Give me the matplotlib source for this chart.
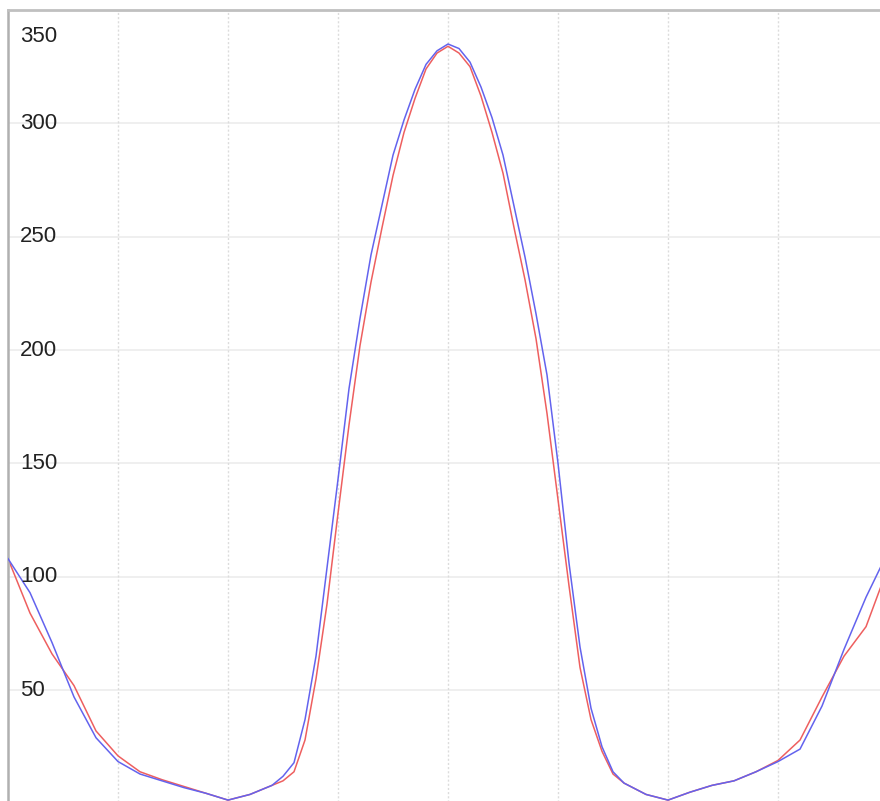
import numpy as np
import matplotlib.pyplot as plt

# x positions in grid units (one vertical grid line every 10 units)
x = [0, 2, 4, 6, 8, 10, 12, 14, 16, 18, 20, 22, 24, 25, 26, 27, 28, 29, 30, 31, 32, 33, 34,
     35, 36, 37, 38, 39, 40, 41, 42, 43, 44, 45, 46, 47, 48, 49, 50, 51, 52, 53, 54, 55,
     56, 58, 60, 62, 64, 66, 68, 70, 72, 74, 76, 78, 79.3]

red = [108, 84, 66, 52, 32, 21, 14, 10.5, 7.5, 4.5, 1.5, 4, 8, 10, 14, 28, 55, 88, 128, 167, 202, 230, 254,
       277, 296, 311, 324, 331, 334, 331, 325, 312, 296, 278, 254, 231, 205, 172, 134, 96, 60, 37, 23, 13,
       9, 4, 1.5, 5, 8, 10, 14, 19, 28, 47, 65, 78, 95]

blue = [108, 93, 71, 47, 29, 18.5, 13, 10, 7, 4.5, 1.5, 4, 8, 12, 18, 37, 65, 104, 143, 183, 214, 242, 264,
        286, 301.5, 315, 326, 332, 335, 333, 327, 316, 302.5, 286, 263.5, 241, 216, 189, 150, 106, 69, 42, 25, 14,
        9, 4, 1.5, 5, 8, 10, 14, 18.5, 24, 43, 68, 91, 104]

yticks = [50, 100, 150, 200, 250, 300]
xgrid = [0, 10, 20, 30, 40, 50, 60, 70]

plt.rcParams['font.family'] = ['Liberation Sans', 'DejaVu Sans']

fig = plt.figure(figsize=(8.8, 8.01), dpi=100)
ax = fig.add_axes([8 / 880, -2.5 / 801, 1 - 8 / 880, (801 - 10 + 2.5) / 801])
ax.set_xlim(0, 79.27)
ax.set_ylim(0, 350)

# grid
for g in yticks:
    ax.axhline(g, color='#ececec', lw=1.2, zorder=0)
for g in xgrid[1:]:
    ax.axvline(g, color='#dcdcdc', lw=1.0, ls=(0, (1.5, 1.5)), zorder=0)

ax.plot(x, red, color='#ee5f5f', lw=1.1, zorder=2)
ax.plot(x, blue, color='#6363ee', lw=1.1, zorder=3)

# y labels drawn inside the plot
for g in yticks:
    ax.text(1.1, g, str(g), fontsize=16, color='#222222', va='center', ha='left', zorder=4)
ax.text(1.1, 338.5, '350', fontsize=16, color='#222222', va='center', ha='left', zorder=4)

ax.set_xticks([])
ax.set_yticks([])
for s in ['right', 'bottom']:
    ax.spines[s].set_visible(False)
ax.spines['left'].set_color('#b0b0b0')
ax.spines['left'].set_linewidth(1.8)
ax.spines['top'].set_color('#c0c0c0')
ax.spines['top'].set_linewidth(2.0)

fig.savefig('out.png', dpi=100)
